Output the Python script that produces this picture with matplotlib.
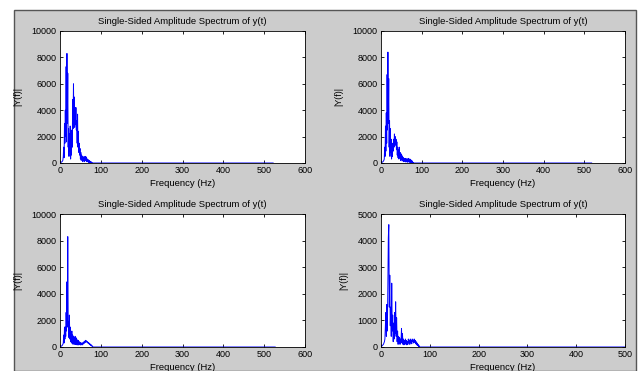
import matplotlib.pyplot as plt
from matplotlib.patches import Rectangle

# frequency grid (Hz) for the low band where the energy is, then flat tail
freq_low = list(range(0, 86))

# |Y(f)| values, 1 Hz steps from 0 to 85 Hz
amp_a = [0, 20, 40, 60, 80, 100, 150, 200, 500, 1200, 400, 3000, 1500, 4000, 2000, 7300,
         1600, 8300, 3000, 6800, 1200, 2600, 500, 2200, 900, 2800, 300, 1800, 600, 2500,
         1200, 4800, 2600, 6000, 3200, 5000, 2700, 4200, 2900, 4200, 2500, 3200, 1500, 3700,
         1200, 2400, 800, 1500, 600, 1100, 300, 800, 200, 600, 300, 500, 100, 400, 200, 500,
         100, 400, 200, 500, 150, 400, 100, 300, 100, 250, 50, 200, 50, 150, 50, 100,
         20, 80, 10, 30, 0, 0, 0, 0, 0, 0]
amp_b = [0, 20, 40, 60, 80, 100, 150, 200, 300, 1200, 500, 2800, 900, 3800, 1500, 6700,
         2500, 8400, 3000, 6400, 1200, 3200, 500, 2600, 800, 1800, 300, 1200, 500, 1500,
         900, 1800, 1200, 2200, 1300, 2000, 1400, 1800, 1000, 1600, 600, 1200, 400, 1000,
         300, 1200, 400, 800, 200, 700, 300, 600, 150, 500, 200, 400, 100, 350, 150, 300,
         80, 350, 100, 300, 80, 300, 60, 350, 100, 300, 60, 300, 50, 250, 50, 200,
         30, 150, 10, 50, 0, 0, 0, 0, 0, 0]
amp_c = [0, 20, 40, 60, 80, 100, 150, 200, 300, 900, 300, 1500, 600, 1500, 800, 2600,
         1200, 4900, 1500, 8300, 2000, 1800, 700, 2400, 600, 1500, 400, 1000, 300, 1200,
         300, 900, 200, 800, 300, 700, 200, 800, 200, 700, 200, 600, 150, 500, 200, 500,
         150, 400, 200, 350, 150, 300, 200, 300, 150, 300, 200, 350, 250, 400, 300, 450,
         350, 500, 400, 450, 350, 400, 300, 350, 250, 300, 200, 250, 150, 200,
         100, 150, 60, 80, 30, 10, 0, 0, 0, 0]
amp_d = [0, 20, 40, 60, 80, 100, 150, 200, 300, 800, 1300, 400, 1600, 600, 2200, 4100,
         4600, 1500, 2700, 800, 1500, 400, 2400, 600, 1200, 200, 900, 300, 1300, 500, 1700,
         400, 1100, 200, 600, 100, 400, 150, 350, 100, 300, 200, 700, 150, 500, 100, 300,
         80, 250, 100, 300, 120, 250, 80, 200, 100, 300, 150, 250, 100, 300, 150, 250,
         120, 300, 200, 250, 150, 300, 180, 250, 120, 200, 80, 150, 50, 100,
         20, 50, 10, 0, 0, 0, 0, 0, 0]

# end of each spectrum (Nyquist)
f_end = [522, 518, 527, 520]
ylims = [10000, 10000, 10000, 5000]
xlims = [600, 600, 600, 500]
amps = [amp_a, amp_b, amp_c, amp_d]

plt.rcParams['font.family'] = ['Liberation Sans', 'DejaVu Sans']
plt.rcParams['font.size'] = 6.5

W, H = 644, 371
fig = plt.figure(figsize=(W / 100, H / 100), dpi=100, facecolor='white')

# MATLAB figure window background
fig.patches.append(Rectangle((14 / W, 0), (636 - 14) / W, (H - 10) / H,
                             transform=fig.transFigure, facecolor='#cccccc',
                             edgecolor='#555555', linewidth=1.0, zorder=-10))

boxes = [(60, 305, 31, 163), (381, 625, 31, 163),
         (60, 305, 214, 347), (381, 625, 214, 347)]

for i, (l, r, t, b) in enumerate(boxes):
    ax = fig.add_axes([l / W, (H - b) / H, (r - l) / W, (b - t) / H])
    fx = freq_low + [f_end[i]]
    fy = amps[i] + [0]
    ax.plot(fx, fy, color='blue', linewidth=0.7)
    ax.set_xlim(0, xlims[i])
    ax.set_ylim(0, ylims[i])
    ax.set_xticks(range(0, xlims[i] + 1, 100))
    ax.set_yticks(range(0, ylims[i] + 1, ylims[i] // 5))
    ax.tick_params(direction='in', top=True, right=True, length=2.5, width=0.6,
                   labelsize=6.5, pad=2.5)
    for s in ax.spines.values():
        s.set_linewidth(0.6)
    ax.set_title('Single-Sided Amplitude Spectrum of y(t)', fontsize=6.8, pad=5)
    ax.set_xlabel('Frequency (Hz)', fontsize=6.8, labelpad=2.5)
    ax.set_ylabel('|Y(f)|', fontsize=6.5, labelpad=7)

plt.savefig('out.png', dpi=100, facecolor='white')
